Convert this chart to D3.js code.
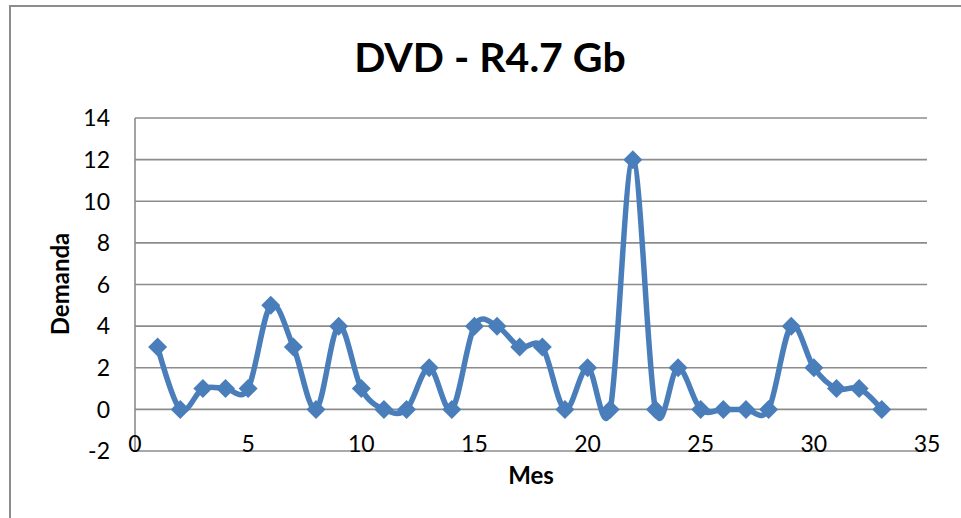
<!DOCTYPE html>
<html>
<head>
<meta charset="utf-8">
<script src="https://cdn.jsdelivr.net/npm/d3@7"></script>
<style>
  html, body { margin: 0; padding: 0; background: #fff; }
  svg { display: block; font-family: Lato, "Open Sans", sans-serif; }
</style>
</head>
<body>
<svg id="chart" width="961" height="518"></svg>
<script>
const title = "DVD - R4.7 Gb";
const xLabel = "Mes";
const yLabel = "Demanda";
const months = [1,2,3,4,5,6,7,8,9,10,11,12,13,14,15,16,17,18,19,20,21,22,23,24,25,26,27,28,29,30,31,32,33];
const demand = [3,0,1,1,1,5,3,0,4,1,0,0,2,0,4,4,3,3,0,2,0,12,0,2,0,0,0,0,4,2,1,1,0];
const xTicks = [0,5,10,15,20,25,30,35];
const yTicks = [-2,0,2,4,6,8,10,12,14];

const svg = d3.select("#chart");
const grid = "#8c8c8c";
const blue = "#4a7ebb";

const x = d3.scaleLinear().domain([0, 35]).range([135, 927]);
const y = d3.scaleLinear().domain([-2, 14]).range([451, 118]);

// outer chart border (left + top only visible)
svg.append("path")
  .attr("d", "M10,518 L10,6 L961,6")
  .attr("fill", "none").attr("stroke", grid).attr("stroke-width", 2);

// horizontal gridlines
svg.append("g").selectAll("line").data(yTicks).join("line")
  .attr("x1", x(0)).attr("x2", x(35))
  .attr("y1", d => y(d)).attr("y2", d => y(d))
  .attr("stroke", grid).attr("stroke-width", 1.6);

// vertical axis line
svg.append("line")
  .attr("x1", x(0)).attr("x2", x(0))
  .attr("y1", y(14)).attr("y2", y(-2))
  .attr("stroke", grid).attr("stroke-width", 1.6);

// y tick labels
svg.append("g").selectAll("text").data(yTicks).join("text")
  .attr("x", 110).attr("y", d => y(d))
  .attr("dy", "0.36em")
  .attr("text-anchor", "end")
  .attr("font-size", 23).attr("fill", "#000")
  .text(d => d);

// x tick labels
svg.append("g").selectAll("text").data(xTicks).join("text")
  .attr("x", d => x(d)).attr("y", 452)
  .attr("text-anchor", "middle")
  .attr("font-size", 23).attr("fill", "#000")
  .text(d => d);

// title
svg.append("text")
  .attr("x", 490).attr("y", 72)
  .attr("text-anchor", "middle")
  .attr("font-size", 41).attr("font-weight", "bold")
  .text(title);

// axis titles
svg.append("text")
  .attr("x", 531).attr("y", 484)
  .attr("text-anchor", "middle")
  .attr("font-size", 24).attr("font-weight", "bold")
  .text(xLabel);

svg.append("text")
  .attr("transform", "translate(69,284) rotate(-90)")
  .attr("text-anchor", "middle")
  .attr("font-size", 24).attr("font-weight", "bold")
  .text(yLabel);

const data = months.map((m, i) => ({ m, v: demand[i] }));

// smoothed line
const line = d3.line()
  .x(d => x(d.m)).y(d => y(d.v))
  .curve(d3.curveCardinal.tension(0));

svg.append("path")
  .datum(data)
  .attr("d", line)
  .attr("fill", "none")
  .attr("stroke", blue)
  .attr("stroke-width", 5.5)
  .attr("stroke-linejoin", "round")
  .attr("stroke-linecap", "round");

// diamond markers
const r = 9.5;
svg.append("g").selectAll("path").data(data).join("path")
  .attr("transform", d => `translate(${x(d.m)},${y(d.v)})`)
  .attr("d", `M0,${-r} L${r},0 L0,${r} L${-r},0 Z`)
  .attr("fill", blue);
</script>
</body>
</html>
